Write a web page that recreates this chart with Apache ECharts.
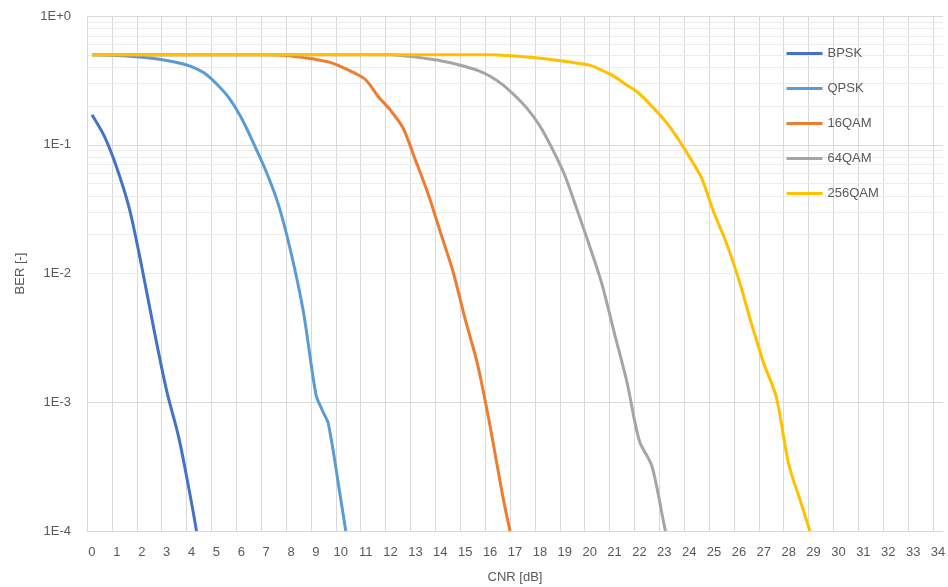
<!DOCTYPE html>
<html>
<head>
<meta charset="utf-8">
<script src="https://cdn.jsdelivr.net/npm/echarts@6/dist/echarts.min.js"></script>
<style>
  html, body { margin: 0; padding: 0; background: #fff; }
  #chart { width: 948px; height: 587px; }
</style>
</head>
<body>
<div id="chart"></div>
<script>
var myChart = echarts.init(document.getElementById('chart'));

// x: CNR [dB], y: BER
var cnrBpsk = [0, 0.5, 1, 1.5, 2, 2.5, 3, 3.5, 4, 4.2];
var berBpsk = [0.171, 0.116, 0.066, 0.032, 0.0113, 3.6e-3, 1.23e-3, 5.2e-4, 1.66e-4, 1e-4];

var cnrQpsk = [0, 0.5, 1, 1.5, 2, 2.5, 3, 3.5, 4, 4.5, 5, 5.5, 6, 6.5, 7, 7.5, 8, 8.5, 9, 9.25, 9.5, 10, 10.2];
var berQpsk = [0.5, 0.498, 0.494, 0.487, 0.478, 0.467, 0.452, 0.432, 0.405, 0.362, 0.298, 0.232, 0.162, 0.102,
    0.062, 0.034, 0.0145, 5e-3, 1.15e-3, 8.7e-4, 6.8e-4, 1.75e-4, 1e-4];

var cnr16 = [0, 1, 2, 3, 4, 5, 6, 7, 7.5, 8, 8.5, 9, 9.5, 10, 10.5, 11, 11.5, 12, 12.5, 13, 13.5, 14, 14.5, 15, 15.5, 16, 16.5, 16.8];
var ber16 = [0.5, 0.5, 0.5, 0.5, 0.5, 0.5, 0.5, 0.5, 0.498, 0.49, 0.475, 0.46, 0.44, 0.405, 0.365, 0.32, 0.237,
    0.185, 0.135, 0.076, 0.042, 0.021, 0.0105, 4.4e-3, 1.95e-3, 6.5e-4, 1.9e-4, 1e-4];

var cnr64 = [0, 2, 4, 6, 8, 10, 12, 12.5, 13, 13.5, 14, 14.5, 15, 15.5, 16, 16.5, 17, 17.5, 18, 18.5, 19, 19.5,
    20, 20.5, 21, 21.5, 22, 22.5, 23, 23.05];
var ber64 = [0.5, 0.5, 0.5, 0.5, 0.5, 0.5, 0.5, 0.492, 0.48, 0.465, 0.45, 0.43, 0.405, 0.378, 0.34, 0.293, 0.24,
    0.19, 0.14, 0.093, 0.058, 0.031, 0.0163, 8.2e-3, 3.4e-3, 1.43e-3, 5e-4, 3.2e-4, 1.1e-4, 1e-4];

var cnr256 = [0, 2, 4, 6, 8, 10, 12, 14, 16, 16.5, 17, 17.5, 18, 18.5, 19, 19.5, 20, 20.5, 21, 21.5, 22, 22.5,
    23, 23.5, 24, 24.5, 25, 25.5, 26, 26.5, 27, 27.5, 28, 28.5, 28.85];
var ber256 = [0.5, 0.5, 0.5, 0.5, 0.5, 0.5, 0.5, 0.5, 0.5, 0.495, 0.49, 0.48, 0.47, 0.458, 0.445, 0.43, 0.415,
    0.378, 0.338, 0.29, 0.249, 0.199, 0.156, 0.115, 0.081, 0.055, 0.0295, 0.0172, 8.9e-3, 4.1e-3, 2.0e-3,
    1.1e-3, 3.3e-4, 1.64e-4, 1e-4];

var names = ['BPSK', 'QPSK', '16QAM', '64QAM', '256QAM'];
var colors = ['#4472c4', '#5b9bd5', '#ed7d31', '#a5a5a5', '#ffc000'];
var xTicks = [];
for (var i = 0; i <= 34; i++) xTicks.push(i);

function pairs(xs, ys) {
    return xs.map(function (x, i) { return [x, ys[i]]; });
}
var allData = [
    pairs(cnrBpsk, berBpsk),
    pairs(cnrQpsk, berQpsk),
    pairs(cnr16, ber16),
    pairs(cnr64, ber64),
    pairs(cnr256, ber256)
];

// minor log grid lines 2..9 per decade
var minorLines = [];
for (var e = -4; e < 0; e++) {
    for (var k = 2; k <= 9; k++) minorLines.push({yAxis: k * Math.pow(10, e)});
}

var textColor = '#595959';
var font = 'Liberation Sans, Arial, sans-serif';

var series = names.map(function (n, i) {
    return {
        name: n,
        type: 'line',
        data: allData[i],
        symbol: 'none',
        smooth: 0.3,
        z: 3,
        lineStyle: {width: 3, color: colors[i]},
        itemStyle: {color: colors[i]}
    };
});
series.unshift({
    type: 'line',
    data: [],
    silent: true,
    z: 1,
    markLine: {
        silent: true,
        z: 1,
        symbol: ['none', 'none'],
        label: {show: false},
        animation: false,
        lineStyle: {color: '#ececec', width: 1, type: 'solid'},
        data: minorLines
    }
});

option = {
    animation: false,
    backgroundColor: '#fff',
    grid: {left: 87, top: 16, width: 856, height: 515, outerBoundsMode: 'none', containLabel: false},
    legend: {
        data: names,
        orient: 'vertical',
        left: 780,
        top: 42,
        itemWidth: 36,
        itemHeight: 14,
        itemGap: 22,
        itemStyle: {opacity: 0},
        lineStyle: {width: 3},
        textStyle: {color: textColor, fontSize: 13, fontFamily: font}
    },
    xAxis: {
        type: 'value',
        min: -0.2,
        max: 34.2,
        interval: 1,
        name: 'CNR [dB]',
        nameLocation: 'middle',
        nameGap: 40,
        nameTextStyle: {color: textColor, fontSize: 13, fontFamily: font},
        axisLine: {show: true, lineStyle: {color: '#d9d9d9'}},
        axisTick: {show: false},
        axisLabel: {
            customValues: xTicks,
            color: textColor,
            fontSize: 13,
            fontFamily: font,
            margin: 15
        },
        splitLine: {show: true, showMaxLine: false, lineStyle: {color: '#d9d9d9', width: 1}}
    },
    yAxis: {
        type: 'log',
        logBase: 10,
        min: 1e-4,
        max: 1,
        name: 'BER [-]',
        nameLocation: 'middle',
        nameGap: 60,
        nameTextStyle: {color: textColor, fontSize: 13, fontFamily: font},
        axisLine: {show: false},
        axisTick: {show: false},
        axisLabel: {
            color: textColor,
            fontSize: 13,
            fontFamily: font,
            margin: 16,
            formatter: function (v) {
                var p = Math.round(Math.log10(v));
                return '1E' + (p >= 0 ? '+' + p : p);
            }
        },
        splitLine: {show: true, lineStyle: {color: '#d9d9d9', width: 1}}
    },
    series: series
};

myChart.setOption(option);
</script>
</body>
</html>
